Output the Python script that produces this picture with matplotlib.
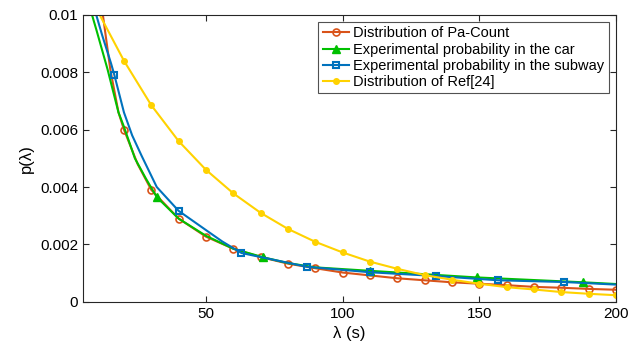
import matplotlib
matplotlib.use('Agg')
import matplotlib.pyplot as plt

plt.rcParams['font.family'] = ['Liberation Sans', 'DejaVu Sans']

# Distribution of Pa-Count (red, circles)
x_pa = [10, 12, 15, 18, 20, 25, 30, 40, 50, 60, 70, 80, 90, 100, 110, 120, 130, 140, 150, 160, 170, 180, 190, 200]
y_pa = [0.0117, 0.0102, 0.0081, 0.0066, 0.0060, 0.0048, 0.0039, 0.0029, 0.00227, 0.00185, 0.00156, 0.00133,
        0.00117, 0.00102, 0.00092, 0.00082, 0.00075, 0.00068, 0.00063, 0.00058, 0.00052, 0.00049, 0.00045, 0.00042]
pa_markers = [4] + list(range(6, len(x_pa)))

# Experimental probability in the car (green, triangles)
x_car = [8, 10, 14, 18, 20, 24, 28, 32, 40, 50, 60, 71, 80, 90, 110, 149, 188, 200]
y_car = [0.0101, 0.00945, 0.0081, 0.0066, 0.0061, 0.0050, 0.0043, 0.00365, 0.0029, 0.0023, 0.00185,
         0.00155, 0.00135, 0.0012, 0.00108, 0.00085, 0.00068, 0.00062]
car_markers = [7, 11, 14, 15, 16]

# Experimental probability in the subway (blue, squares)
x_sub = [8, 12, 15.3, 16.5, 20, 23, 26.4, 32, 40, 50, 56, 63, 87, 110, 134, 157, 181, 200]
y_sub = [0.0106, 0.0093, 0.0083, 0.0079, 0.0066, 0.0058, 0.0051, 0.0040, 0.00317, 0.0025, 0.0021, 0.0017,
         0.00122, 0.00103, 0.00090, 0.00075, 0.00069, 0.00060]
sub_markers = [3, 8, 11, 12, 13, 14, 15, 16]

# Distribution of Ref[24] (yellow, dots)
x_ref = [10, 20, 30, 40, 50, 60, 70, 80, 90, 100, 110, 120, 130, 140, 150, 160, 170, 180, 190, 200]
y_ref = [0.0102, 0.0084, 0.00685, 0.0056, 0.0046, 0.00378, 0.0031, 0.00254, 0.00209, 0.00172,
         0.0014, 0.00115, 0.00093, 0.00077, 0.00063, 0.00051, 0.00043, 0.00034, 0.00028, 0.00023]

c_red = '#D95319'
c_green = '#00C000'
c_blue = '#0072BD'
c_yellow = '#FFD200'

fig = plt.figure(figsize=(6.43, 3.53), dpi=100)
ax = fig.add_axes([0.129, 0.145, 0.829, 0.813])

ax.plot(x_pa, y_pa, color=c_red, lw=1.5, marker='o', ms=5, mfc='none', mew=1.2,
        markevery=pa_markers, label='Distribution of Pa-Count')
ax.plot(x_car, y_car, color=c_green, lw=1.5, marker='^', ms=5.5, mfc=c_green,
        markevery=car_markers, label='Experimental probability in the car')
ax.plot(x_sub, y_sub, color=c_blue, lw=1.5, marker='s', ms=4.5, mfc='none', mew=1.5,
        markevery=sub_markers, label='Experimental probability in the subway')
ax.plot(x_ref, y_ref, color=c_yellow, lw=1.5, marker='o', ms=4, mfc=c_yellow,
        markevery=list(range(1, len(x_ref))), label='Distribution of Ref[24]')

ax.set_xlim(5, 200)
ax.set_ylim(0, 0.01)
ax.set_xticks([50, 100, 150, 200])
ax.set_yticks([0, 0.002, 0.004, 0.006, 0.008, 0.01])
ax.set_yticklabels(['0', '0.002', '0.004', '0.006', '0.008', '0.01'])
ax.tick_params(direction='in', top=True, right=True, length=4, labelsize=11, color='#262626')
for s in ax.spines.values():
    s.set_color('#262626')
    s.set_linewidth(0.8)

ax.set_xlabel('λ (s)', fontsize=12)
ax.set_ylabel('p(λ)', fontsize=12)

leg = ax.legend(loc='upper right', fontsize=10.5, frameon=True, fancybox=False,
                edgecolor='#262626', handlelength=1.8, borderpad=0.3, labelspacing=0.15,
                handletextpad=0.3, borderaxespad=0.5)
leg.get_frame().set_linewidth(0.8)

fig.savefig('out.png', dpi=100)
